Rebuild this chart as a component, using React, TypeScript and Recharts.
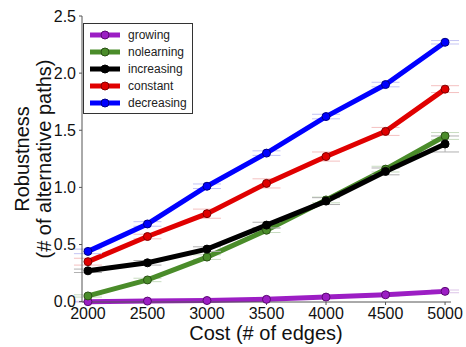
import { LineChart, Line, XAxis, YAxis, ErrorBar, Label } from 'recharts';

const costs = [2000, 2500, 3000, 3500, 4000, 4500, 5000];

const growing = [0.0, 0.005, 0.01, 0.02, 0.04, 0.06, 0.09];
const nolearning = [0.05, 0.19, 0.39, 0.625, 0.89, 1.16, 1.45];
const increasing = [0.27, 0.34, 0.46, 0.67, 0.88, 1.14, 1.38];
const constant = [0.35, 0.57, 0.77, 1.035, 1.27, 1.49, 1.86];
const decreasing = [0.44, 0.68, 1.01, 1.3, 1.62, 1.9, 2.27];

const growingErr = [0.003, 0.005, 0.005, 0.006, 0.008, 0.01, 0.012];
const nolearningErr = [0.01, 0.015, 0.02, 0.02, 0.025, 0.025, 0.03];
const increasingErr = [0.015, 0.02, 0.02, 0.025, 0.03, 0.03, 0.07];
const constantErr = [0.03, 0.02, 0.04, 0.04, 0.04, 0.035, 0.03];
const decreasingErr = [0.02, 0.02, 0.02, 0.02, 0.02, 0.02, 0.015];

const xTicks = [2000, 2500, 3000, 3500, 4000, 4500, 5000];
const yTicks = [0, 0.5, 1.0, 1.5, 2.0, 2.5];

const series = [
  { key: 'growing', color: '#9c1ec4', edge: '#5a0a72', err: '#dcc4e8' },
  { key: 'nolearning', color: '#4a8c2a', edge: '#2a5015', err: '#c8dcc0' },
  { key: 'increasing', color: '#000000', edge: '#000000', err: '#b0b0b0' },
  { key: 'constant', color: '#e00000', edge: '#800000', err: '#f4c0c0' },
  { key: 'decreasing', color: '#0000ff', edge: '#000080', err: '#c4c4f4' },
];

const data = costs.map((c, i) => ({
  cost: c,
  growing: growing[i],
  nolearning: nolearning[i],
  increasing: increasing[i],
  constant: constant[i],
  decreasing: decreasing[i],
  growingErr: growingErr[i],
  nolearningErr: nolearningErr[i],
  increasingErr: increasingErr[i],
  constantErr: constantErr[i],
  decreasingErr: decreasingErr[i],
}));

const FONT = '"Liberation Sans", Arial, sans-serif';

function LegendBox() {
  return (
    <div
      style={{
        position: 'absolute',
        left: 83,
        top: 23,
        border: '1px solid #333',
        background: '#fff',
        padding: '2px 5px 2px 6px',
        fontFamily: FONT,
        fontSize: 12,
        lineHeight: 1,
      }}
    >
      {series.map(s => (
        <div key={s.key} style={{ display: 'flex', alignItems: 'center', height: 17 }}>
          <svg width={30} height={10} style={{ marginRight: 8 }}>
            <line x1={0} y1={5} x2={30} y2={5} stroke={s.color} strokeWidth={5} />
            <circle cx={15} cy={5} r={4} fill={s.color} stroke={s.edge} strokeWidth={1} />
          </svg>
          <span style={{ color: '#222' }}>{s.key}</span>
        </div>
      ))}
    </div>
  );
}

export default function App() {
  return (
    <div style={{ position: 'absolute', left: 0, top: 0, width: 466, height: 347, background: '#fff' }}>
      <LineChart width={466} height={347} data={data} margin={{ top: 16, right: 15, left: 0, bottom: 0 }}>
        <XAxis
          dataKey="cost"
          type="number"
          domain={[1950, 5050]}
          ticks={xTicks}
          height={45}
          tick={{ fill: '#111', fontSize: 16, fontFamily: FONT }}
          tickSize={3}
          tickMargin={3}
          axisLine={{ stroke: '#555' }}
          tickLine={{ stroke: '#555' }}
        >
          <Label
            content={() => (
              <text x={266} y={340} textAnchor="middle" fontSize={20} fontFamily={FONT} fill="#111">
                Cost (# of edges)
              </text>
            )}
          />
        </XAxis>
        <YAxis
          type="number"
          domain={[0, 2.5]}
          ticks={yTicks}
          width={82}
          tickFormatter={(v: number) => v.toFixed(1)}
          tick={{ fill: '#111', fontSize: 16, fontFamily: FONT }}
          tickSize={3}
          tickMargin={3}
          axisLine={{ stroke: '#555' }}
          tickLine={{ stroke: '#555' }}
        >
          <Label
            content={() => (
              <g transform="translate(0,159) rotate(-90)" fontSize={20} fontFamily={FONT} fill="#111">
                <text x={0} y={29} textAnchor="middle">Robustness</text>
                <text x={0} y={51} textAnchor="middle">(# of alternative paths)</text>
              </g>
            )}
          />
        </YAxis>
        {series.map(s => (
          <Line
            key={s.key}
            dataKey={s.key}
            stroke={s.color}
            strokeWidth={5}
            dot={{ r: 4, fill: s.color, stroke: s.edge, strokeWidth: 1 }}
            activeDot={false}
            isAnimationActive={false}
          >
            <ErrorBar dataKey={`${s.key}Err`} width={14} strokeWidth={1} stroke={s.err} direction="y" />
          </Line>
        ))}
      </LineChart>
      <LegendBox />
    </div>
  );
}
